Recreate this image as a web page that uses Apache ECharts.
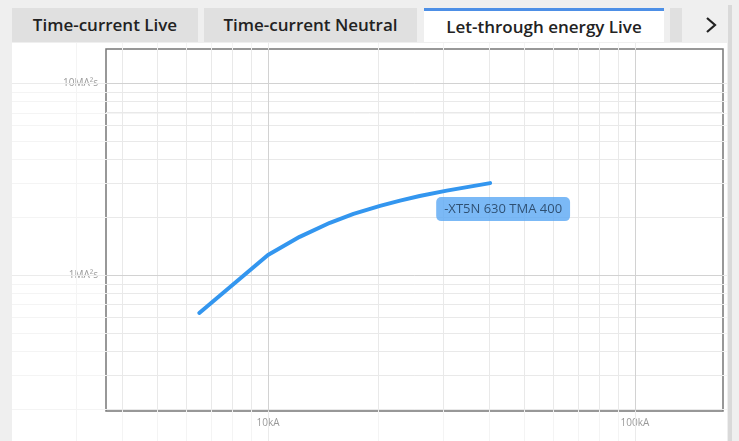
<!DOCTYPE html>
<html>
<head>
<meta charset="utf-8">
<script src="https://cdn.jsdelivr.net/npm/echarts@6/dist/echarts.min.js"></script>
<style>
  html, body { margin:0; padding:0; width:739px; height:441px; overflow:hidden; background:#efefef; font-family:'Open Sans','Noto Sans',sans-serif; }
  .tab { position:absolute; top:8px; height:34px; background:#e0e0e0; color:#222; font-size:17px; font-weight:600; line-height:34px; text-align:center; box-sizing:border-box; }
  .tab.active { background:#fff; border-top:3px solid #4d8fe6; line-height:31px; }
  #chart { position:absolute; left:12px; top:43px; width:715px; height:398px; background:#fff; }
  #bar { position:absolute; left:728px; top:5px; width:4px; height:436px; background:#d9d9d9; }
  #chev { position:absolute; left:702px; top:15px; width:18px; height:20px; }
</style>
</head>
<body>
<div class="tab" style="left:12px;width:186px;">Time-current Live</div>
<div class="tab" style="left:204px;width:213px;">Time-current Neutral</div>
<div class="tab active" style="left:424px;width:240px;">Let-through energy Live</div>
<div class="tab" style="left:670px;width:12px;"></div>
<svg id="chev" viewBox="0 0 18 20"><polyline points="5,3 13,10 5,17" fill="none" stroke="#222" stroke-width="2.2"/></svg>
<div id="bar"></div>
<div id="chart"></div>
<script>
// ---- data (kA, MA²s) ----
const currentKA  = [6.5, 10, 12.2, 14.75, 17.1, 20.2, 22.9, 25.9, 30.7, 40.3];
const energyMA2s = [0.634, 1.27, 1.58, 1.87, 2.08, 2.29, 2.44, 2.58, 2.75, 3.01];
const seriesName = '-XT5N 630 TMA 400';
// ---- grid line values ----
const xMajor = [10, 100];
const xMinor = [3, 4, 5, 6, 7, 8, 9, 20, 30, 40, 50, 60, 70, 80, 90];
const yMajor = [1, 10];
const yMinor = [0.2, 0.3, 0.4, 0.5, 0.6, 0.7, 0.8, 0.9, 2, 3, 4, 5, 6, 7, 8, 9];
// ---- axis extents ----
const outerX = [2.006, 178.1];
const outerY = [0.13656, 16.16];
const innerX = [3.620, 173.7];
const innerY = [0.19573, 15.03];

function isDecade(v) { const l = Math.log10(v); return Math.abs(l - Math.round(l)) < 1e-6; }
function fmtX(v) { if (!isDecade(v)) return ''; return v >= 1 ? Math.round(v) + 'kA' : ''; }
function fmtY(v) { if (!isDecade(v)) return ''; return (v >= 1 ? Math.round(v) : v) + 'MA²s'; }

function gridLines(minorColor, majorColor) {
  const d = [];
  xMinor.forEach(v => d.push({ xAxis: v, lineStyle: { color: minorColor } }));
  yMinor.forEach(v => d.push({ yAxis: v, lineStyle: { color: minorColor } }));
  xMajor.forEach(v => d.push({ xAxis: v, lineStyle: { color: majorColor } }));
  yMajor.forEach(v => d.push({ yAxis: v, lineStyle: { color: majorColor } }));
  return {
    silent: true, symbol: ['none', 'none'], label: { show: false }, animation: false,
    lineStyle: { type: 'solid', width: 1 }, data: d
  };
}

const chart = echarts.init(document.getElementById('chart'), null, { renderer: 'canvas' });
const axisCommon = { axisLine: { show: false }, axisTick: { show: false }, splitLine: { show: false }, minorSplitLine: { show: false } };
chart.setOption({
  animation: false,
  grid: [
    { left: 0, right: 0, top: 0, bottom: 0, show: false },
    { left: 94, right: 4, top: 6, bottom: 30, show: true, borderColor: '#777', borderWidth: 1.5, backgroundColor: 'transparent' }
  ],
  xAxis: [
    Object.assign({ type: 'log', gridIndex: 0, min: outerX[0], max: outerX[1], axisLabel: { show: false } }, axisCommon),
    Object.assign({ type: 'log', gridIndex: 1, min: innerX[0], max: innerX[1],
      axisLabel: { formatter: fmtX, color: '#999', fontSize: 10, margin: 7, fontFamily: 'Open Sans', showMinLabel: false, showMaxLabel: false } }, axisCommon)
  ],
  yAxis: [
    Object.assign({ type: 'log', gridIndex: 0, min: outerY[0], max: outerY[1], axisLabel: { show: false } }, axisCommon),
    Object.assign({ type: 'log', gridIndex: 1, min: innerY[0], max: innerY[1],
      axisLabel: { formatter: fmtY, color: '#999', fontSize: 10, margin: 8, fontFamily: 'Open Sans', showMinLabel: false, showMaxLabel: false } }, axisCommon)
  ],
  series: [
    { type: 'line', xAxisIndex: 0, yAxisIndex: 0, data: [[10, 1]], showSymbol: false, lineStyle: { opacity: 0 }, silent: true, z: 1,
      markLine: gridLines('#f4f4f4', '#ebebeb') },
    { type: 'line', xAxisIndex: 1, yAxisIndex: 1, data: [[10, 1]], showSymbol: false, lineStyle: { opacity: 0 }, silent: true, z: 2,
      markLine: gridLines('#e9e9e9', '#d2d2d2') },
    { type: 'line', name: seriesName, xAxisIndex: 1, yAxisIndex: 1, z: 5,
      data: currentKA.map((x, i) => [x, energyMA2s[i]]),
      showSymbol: false, smooth: false,
      lineStyle: { color: '#3396ef', width: 4, cap: 'round', join: 'round' } },
    { type: 'scatter', xAxisIndex: 1, yAxisIndex: 1, z: 6, symbolSize: 0, silent: true,
      data: [[currentKA[currentKA.length - 1], energyMA2s[energyMA2s.length - 1]]],
      label: { show: true, formatter: seriesName, position: 'bottom', distance: 14, offset: [13, 0],
        backgroundColor: '#5aa8f4', borderRadius: 5, padding: [5, 8, 4, 8], color: '#1c3550',
        fontSize: 13, fontFamily: 'Open Sans', lineHeight: 15 } }
  ]
});
</script>
</body>
</html>
